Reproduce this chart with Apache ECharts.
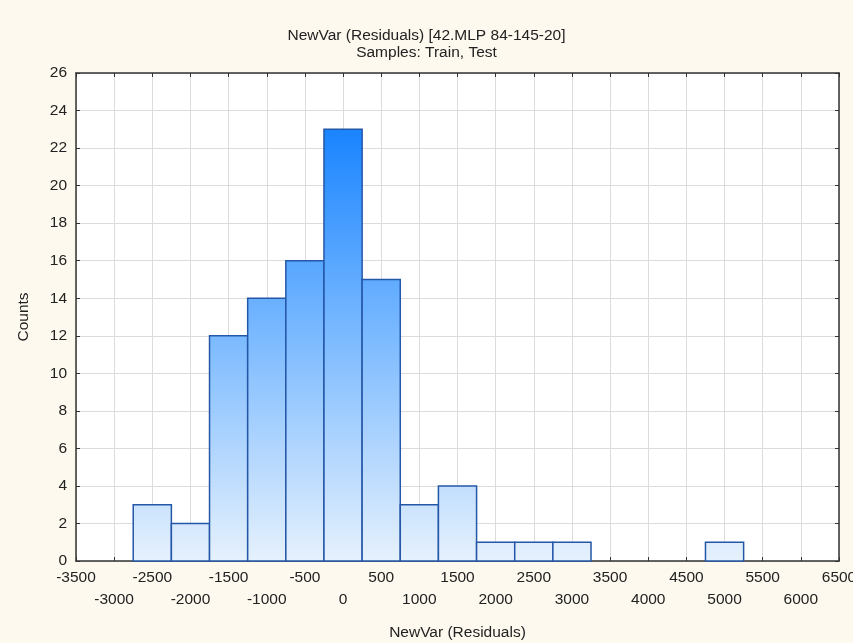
<!DOCTYPE html>
<html>
<head>
<meta charset="utf-8">
<script src="https://cdn.jsdelivr.net/npm/echarts@6/dist/echarts.min.js"></script>
<style>
html,body{margin:0;padding:0;background:#fdf9ef;}
#c{width:853px;height:643px;}
</style>
</head>
<body>
<div id="c"></div>
<script>
const binCenters = [-2500, -2000, -1500, -1000, -500, 0, 500, 1000, 1500, 2000, 2500, 3000, 3500, 4000, 4500, 5000];
const counts     = [3, 2, 12, 14, 16, 23, 15, 3, 4, 1, 1, 1, 0, 0, 0, 1];
const binWidth = 500;
const titleLines = ['NewVar (Residuals) [42.MLP 84-145-20]', 'Samples: Train, Test'];
const xName = 'NewVar (Residuals)';
const yName = 'Counts';

const chart = echarts.init(document.getElementById('c'));
const FONT = 'Liberation Sans, Arial, sans-serif';
const FS = 15.5;
const grad = new echarts.graphic.LinearGradient(0, 129, 0, 561, [
  {offset: 0, color: '#1a84ff'},
  {offset: 0.5, color: '#7fbcff'},
  {offset: 1, color: '#e6f1fd'}
], true);

const data = binCenters.map((c, i) => [c, counts[i]]).filter(d => d[1] > 0);
const isOdd = v => Math.abs(Math.round(v / 500)) % 2 === 1;

const axLine = {show: true, onZero: false, lineStyle: {color: '#333', width: 1.5}};
const tick = {show: true, inside: true, length: 4, lineStyle: {color: '#333'}};
const xRange = {type: 'value', min: -3500, max: 6500, interval: 500};
const lblBase = {fontFamily: FONT, fontSize: FS, color: '#222', showMinLabel: true, showMaxLabel: true, hideOverlap: false};
chart.setOption({
  backgroundColor: '#fdf9ef',
  animation: false,
  title: {
    text: titleLines.join('\n'),
    left: 'center', top: 22,
    textStyle: {fontFamily: FONT, fontSize: FS, fontWeight: 'normal', color: '#222', lineHeight: 17}
  },
  grid: {left: 76, right: 14, top: 73, bottom: 82, backgroundColor: '#ffffff', show: true, borderWidth: 0,
         containLabel: false, outerBoundsMode: 'none'},
  xAxis: [Object.assign({}, xRange, {
    position: 'bottom',
    name: xName, nameLocation: 'middle', nameGap: 64,
    nameTextStyle: {fontFamily: FONT, fontSize: FS, color: '#222'},
    axisLine: axLine, axisTick: tick,
    splitLine: {show: true, lineStyle: {color: '#dcdcdc', width: 1}},
    axisLabel: Object.assign({}, lblBase, {margin: 9, formatter: v => isOdd(v) ? String(v) : ''})
  }), Object.assign({}, xRange, {
    position: 'bottom', offset: 22,
    axisLine: {show: false}, axisTick: {show: false}, splitLine: {show: false},
    axisLabel: Object.assign({}, lblBase, {margin: 9, formatter: v => isOdd(v) ? '' : String(v)})
  }), Object.assign({}, xRange, {
    position: 'top',
    axisLine: axLine, axisTick: tick,
    axisLabel: {show: false}, splitLine: {show: false}
  })],
  yAxis: [{
    type: 'value', min: 0, max: 26, interval: 2, position: 'left',
    name: yName, nameLocation: 'middle', nameGap: 44, nameRotate: 90,
    nameTextStyle: {fontFamily: FONT, fontSize: FS, color: '#222'},
    axisLine: axLine, axisTick: tick,
    splitLine: {show: true, lineStyle: {color: '#dcdcdc', width: 1}},
    axisLabel: {fontFamily: FONT, fontSize: FS, color: '#222', margin: 9, showMinLabel: true, showMaxLabel: true}
  }, {
    type: 'value', min: 0, max: 26, interval: 2, position: 'right',
    axisLine: axLine, axisTick: tick,
    axisLabel: {show: false}, splitLine: {show: false}
  }],
  series: [{
    type: 'custom',
    xAxisIndex: 0, yAxisIndex: 0,
    data: data,
    renderItem: function (params, api) {
      const c = api.value(0), v = api.value(1);
      const p0 = api.coord([c - binWidth / 2, v]);
      const p1 = api.coord([c + binWidth / 2, 0]);
      return {
        type: 'rect',
        shape: {x: p0[0], y: p0[1], width: p1[0] - p0[0], height: p1[1] - p0[1]},
        style: {fill: grad, stroke: '#2557a8', lineWidth: 1.5}
      };
    },
    encode: {x: 0, y: 1}
  }]
});
</script>
</body>
</html>
